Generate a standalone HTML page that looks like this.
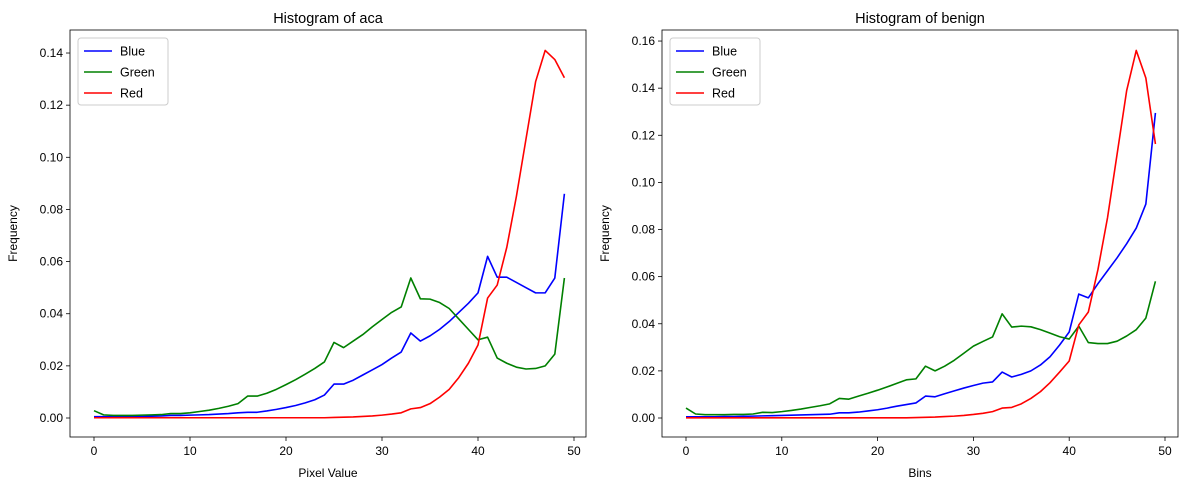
<!DOCTYPE html>
<html><head><meta charset="utf-8"><style>
body{margin:0;background:#fff;}
svg{display:block;font-family:"Liberation Sans","DejaVu Sans",sans-serif;}
</style></head><body>
<svg id="chart" width="1189" height="490" viewBox="0 0 1189 490"></svg>
<script>
const bins = Array.from({length:50},(_,i)=>i);
const acaBlue=[0.0005,0.0005,0.0005,0.0005,0.0006,0.0006,0.0007,0.0008,0.001,0.001,0.0011,0.0012,0.0013,0.0015,0.0017,0.002,0.0022,0.0022,0.0027,0.0033,0.004,0.0048,0.0058,0.007,0.0088,0.013,0.013,0.0145,0.0165,0.0185,0.0205,0.023,0.0253,0.0326,0.0295,0.0315,0.034,0.037,0.0405,0.044,0.048,0.062,0.054,0.054,0.052,0.05,0.048,0.048,0.0537,0.086];
const acaGreen=[0.0028,0.0012,0.001,0.001,0.001,0.0011,0.0012,0.0013,0.0017,0.0017,0.002,0.0025,0.003,0.0037,0.0045,0.0055,0.0084,0.0084,0.0095,0.011,0.0128,0.0147,0.0168,0.019,0.0215,0.029,0.027,0.0295,0.032,0.035,0.0378,0.0405,0.0426,0.0537,0.0457,0.0456,0.0443,0.042,0.038,0.034,0.030,0.031,0.023,0.021,0.0195,0.0188,0.019,0.020,0.0245,0.0537];
const acaRed=[0.0001,0.0001,0.0001,0.0001,0.0001,0.0001,0.0001,0.0001,0.0001,0.0001,0.0001,0.0001,0.0001,0.0001,0.0001,0.0001,0.0001,0.0001,0.0001,0.0001,0.0001,0.0001,0.0001,0.0001,0.0001,0.0002,0.0003,0.0004,0.0006,0.0008,0.0011,0.0015,0.002,0.0035,0.004,0.0055,0.008,0.011,0.0155,0.021,0.028,0.046,0.051,0.0655,0.085,0.107,0.129,0.141,0.1375,0.1305];
const benBlue=[0.0005,0.0005,0.0005,0.0005,0.0006,0.0006,0.0007,0.0008,0.0009,0.001,0.0011,0.0012,0.0013,0.0014,0.0015,0.0016,0.0022,0.0022,0.0025,0.003,0.0035,0.0042,0.005,0.0057,0.0064,0.0093,0.009,0.0103,0.0115,0.0127,0.0138,0.0148,0.0153,0.0195,0.0174,0.0185,0.020,0.0225,0.026,0.031,0.0365,0.0526,0.051,0.057,0.0625,0.068,0.074,0.0806,0.0908,0.1295];
const benGreen=[0.0042,0.0017,0.0014,0.0014,0.0014,0.0015,0.0015,0.0017,0.0024,0.0023,0.0027,0.0032,0.0038,0.0045,0.0052,0.006,0.0083,0.008,0.0093,0.0105,0.0118,0.0132,0.0147,0.0162,0.0166,0.022,0.020,0.022,0.0245,0.0275,0.0305,0.0325,0.0344,0.0442,0.0386,0.039,0.0387,0.0375,0.036,0.0345,0.0335,0.039,0.032,0.0316,0.0316,0.0326,0.0348,0.0375,0.0424,0.058];
const benRed=[0.0001,0.0001,0.0001,0.0001,0.0001,0.0001,0.0001,0.0001,0.0001,0.0001,0.0001,0.0001,0.0001,0.0001,0.0001,0.0001,0.0001,0.0001,0.0001,0.0001,0.0001,0.0001,0.0001,0.0001,0.0002,0.0003,0.0004,0.0006,0.0008,0.0011,0.0015,0.002,0.0027,0.0042,0.0045,0.006,0.0083,0.0112,0.015,0.0195,0.0242,0.0395,0.045,0.063,0.085,0.112,0.139,0.156,0.1443,0.1163];
const xTicks=[0,10,20,30,40,50];
const acaYTicks=[0,0.02,0.04,0.06,0.08,0.10,0.12,0.14];
const benYTicks=[0,0.02,0.04,0.06,0.08,0.10,0.12,0.14,0.16];

const NS="http://www.w3.org/2000/svg";
const svg=document.getElementById('chart');
function mk(tag,attrs,parent){const e=document.createElementNS(NS,tag);for(const k in attrs)e.setAttribute(k,attrs[k]);(parent||svg).appendChild(e);return e;}

function panel(o){
  const g=mk('g',{});
  
  
  const X=v=>o.x0+(v-0)*o.xs;
  const Y=v=>418-v*o.ys;
  // ticks
  xTicks.forEach(t=>{
    const px=X(t);
    const l=mk('line',{x1:px,x2:px,y1:o.b,y2:o.b+4,stroke:'#000','stroke-width':0.8},g);
    
    
    const tx=mk('text',{x:px,y:o.b+18,'font-size':12,'text-anchor':'middle'},g);
    tx.textContent=t;
    
    
  });
  o.yt.forEach(t=>{
    const py=Y(t);
    const l=mk('line',{x1:o.l-4,x2:o.l,y1:py,y2:py,stroke:'#000','stroke-width':0.8},g);
    
    
    const tx=mk('text',{x:o.l-7,y:py+4,'font-size':12,'text-anchor':'end'},g);
    tx.textContent=t.toFixed(2);
    
    
  });
  const series=[['blue',o.b1,'blue'],['green',o.g1,'green'],['red',o.r1,'#ff0000']];
  series.forEach(s=>{
    const p=mk('polyline',{points:bins.map((b,i)=>X(b)+','+Y(s[1][i])).join(' '),fill:'none',stroke:s[2],'stroke-width':1.6,'stroke-linejoin':'round'},g);
    
    
  });
  const fr=mk('rect',{x:o.l,y:30,width:o.r-o.l,height:o.b-30,fill:'none',stroke:'#000','stroke-width':0.8},g);
  
  
  const ti=mk('text',{x:(o.l+o.r)/2,y:23,'font-size':14.5,'text-anchor':'middle'},g);
  ti.textContent=o.title;
  
  
  const xl=mk('text',{x:(o.l+o.r)/2,y:477,'font-size':12,'text-anchor':'middle'},g);
  xl.textContent=o.xlabel;
  
  
  const yl=mk('text',{x:0,y:0,'font-size':12,'text-anchor':'middle',transform:`translate(${o.l-53},${(30+o.b)/2}) rotate(-90)`},g);
  yl.textContent='Frequency';
  
  
  // legend
  const lg=mk('g',{},g);
  
  
  mk('rect',{x:o.l+8,y:38,width:90,height:67,rx:3,fill:'#fff',stroke:'#ccc','stroke-width':1},lg);
  series.forEach((s,i)=>{
    const yy=51+i*21;
    const e=mk('g',{},lg);
    
    
    mk('line',{x1:o.l+14,x2:o.l+42,y1:yy,y2:yy,stroke:s[2],'stroke-width':1.6},e);
    const t=mk('text',{x:o.l+50,y:yy+4.5,'font-size':12.5},e);
    t.textContent=s[0][0].toUpperCase()+s[0].slice(1);
  });
}
panel({name:'aca-panel',l:70,r:586,b:437,x0:94,xs:9.6,ys:2607,yt:acaYTicks,b1:acaBlue,g1:acaGreen,r1:acaRed,title:'Histogram of aca',xlabel:'Pixel Value'});
panel({name:'benign-panel',l:662,r:1178,b:437,x0:686,xs:9.58,ys:2356,yt:benYTicks,b1:benBlue,g1:benGreen,r1:benRed,title:'Histogram of benign',xlabel:'Bins'});
</script>
</body></html>
